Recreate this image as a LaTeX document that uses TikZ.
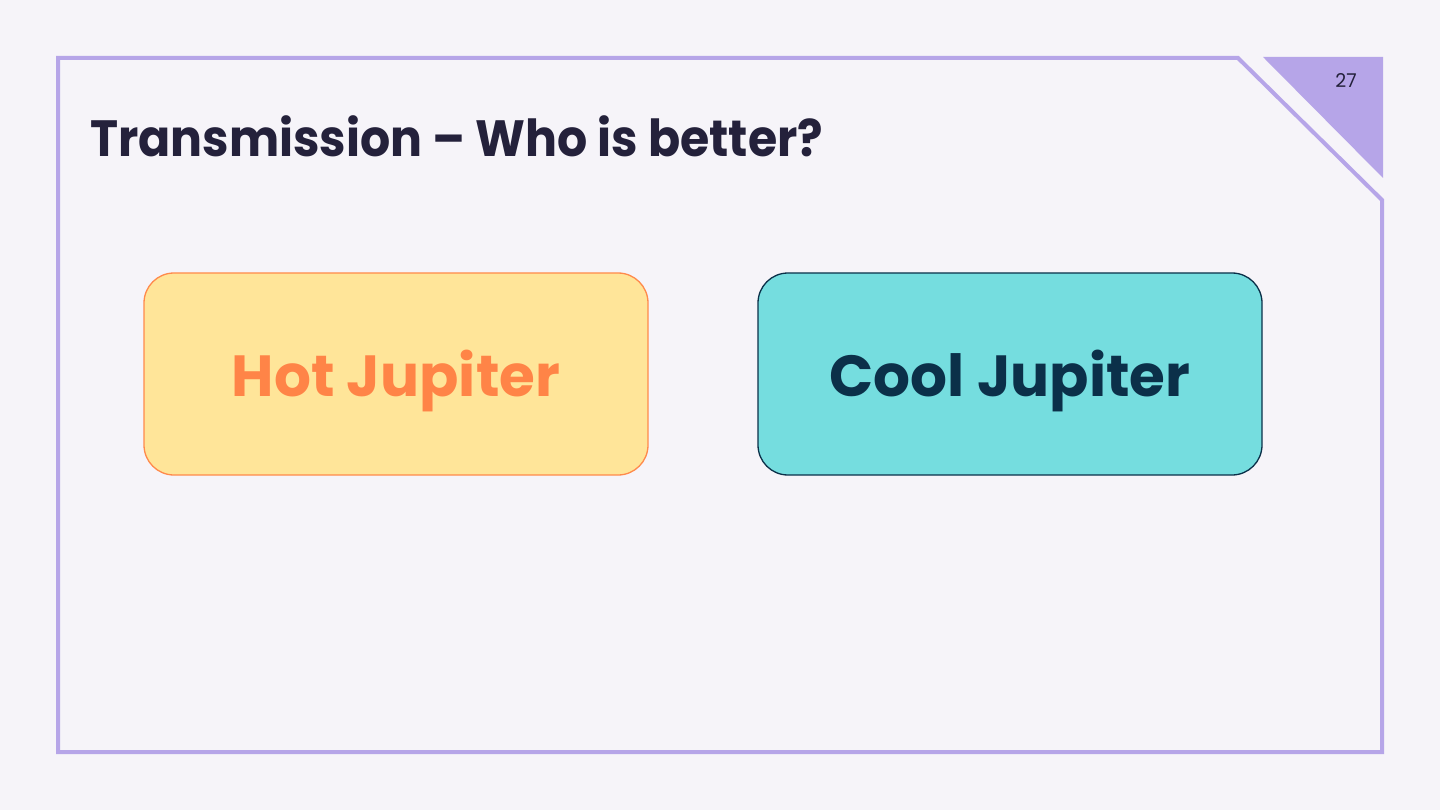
\documentclass[tikz,border=0pt]{standalone}
\usepackage{fontspec}
\usepackage{graphicx}
\setmainfont{Poppins}[BoldFont={Poppins Bold}]
\definecolor{bg}{HTML}{F6F4F9}
\definecolor{frame}{HTML}{B6A5E8}
\definecolor{titlec}{HTML}{24213B}
\definecolor{hotfill}{HTML}{FFE599}
\definecolor{hotline}{HTML}{FF8A4C}
\definecolor{hottext}{HTML}{FF8447}
\definecolor{coolfill}{HTML}{75DDDF}
\definecolor{coolline}{HTML}{0B3049}
\begin{document}
\begin{tikzpicture}[x=1pt,y=-1pt,
  card/.style={rounded corners=30pt, minimum width=504pt, minimum height=202pt, line width=1.3pt, inner sep=0pt, font=\fontsize{58}{60}\selectfont\bfseries}]
\useasboundingbox (0,0) rectangle (1440,810);
\fill[bg] (0,0) rectangle (1440,810);
\draw[frame, line width=4pt, line join=miter] (58,58) -- (1238,58) -- (1382,200) -- (1382,752) -- (58,752) -- cycle;
\fill[frame] (1263,57) -- (1383,57) -- (1383,178) -- cycle;
\node[anchor=base, text=titlec, font=\fontsize{19}{20}\selectfont, inner sep=0pt] (num) at (1346,88) {27};
\node[anchor=base west, text=titlec, font=\fontsize{51}{53}\selectfont\bfseries, inner sep=0pt] (title) at (90,157) {\scalebox{0.93}[1]{Transmission – Who is better?}};
\node[card, fill=hotfill, draw=hotline, text=hottext] (hot) at (396,374) {\raisebox{-22pt}[0pt][0pt]{Hot Jupiter}};
\node[card, fill=coolfill, draw=coolline, text=coolline] (cool) at (1010,374) {\raisebox{-22pt}[0pt][0pt]{Cool Jupiter}};
\end{tikzpicture}
\end{document}
